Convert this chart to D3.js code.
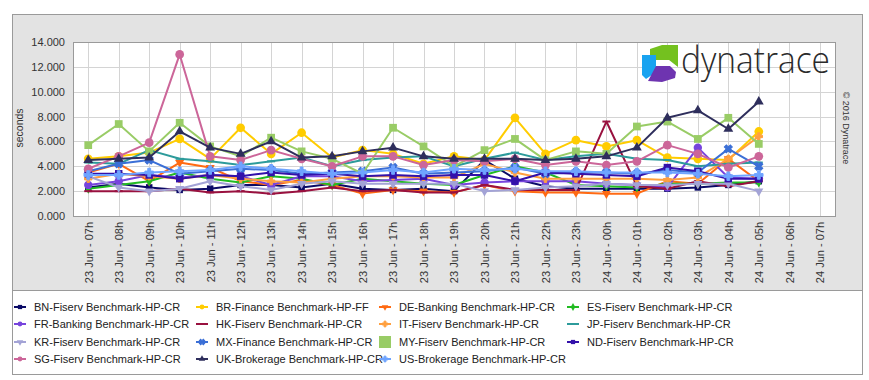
<!DOCTYPE html>
<html>
<head>
<meta charset="utf-8">
<script src="https://cdn.jsdelivr.net/npm/d3@7"></script>
<style>
  body { margin: 0; background: #fff; }
  svg { font-family: Arial, 'Liberation Sans', sans-serif; }
  .tickText { font-size: 11px; fill: #333; }
  .legendText { font-size: 11px; fill: #222; }
</style>
</head>
<body>
<div id="chart"></div>
<script>
// categories on the x axis (hourly)
var hours = ['23 Jun - 07h', '23 Jun - 08h', '23 Jun - 09h', '23 Jun - 10h', '23 Jun - 11h', '23 Jun - 12h',
  '23 Jun - 13h', '23 Jun - 14h', '23 Jun - 15h', '23 Jun - 16h', '23 Jun - 17h', '23 Jun - 18h',
  '23 Jun - 19h', '23 Jun - 20h', '23 Jun - 21h', '23 Jun - 22h', '23 Jun - 23h', '24 Jun - 00h',
  '24 Jun - 01h', '24 Jun - 02h', '24 Jun - 03h', '24 Jun - 04h', '24 Jun - 05h', '24 Jun - 06h', '24 Jun - 07h'];

var yTicks = [0, 2, 4, 6, 8, 10, 12, 14];

// response times in seconds, one value per hour (07h .. 05h)
var bnFiserv = [2.3, 2.6, 2.3, 2.1, 2.2, 2.5, 2.5, 2.3, 2.6, 2.2, 2.1, 2.2, 2.0, 4.5, 3.0, 2.4, 2.2, 2.2, 2.2, 2.2, 2.3, 2.5, 2.8];
var brFinance = [4.6, 4.8, 5.1, 6.2, 4.6, 7.1, 5.0, 6.7, 4.7, 5.3, 5.0, 4.2, 4.8, 4.5, 7.9, 5.0, 6.1, 5.6, 6.1, 4.7, 4.6, 4.5, 6.8];
var deBanking = [3.5, 4.2, 2.8, 4.3, 3.9, 2.8, 2.5, 2.9, 2.5, 1.8, 2.1, 2.0, 1.9, 2.5, 2.0, 1.9, 1.9, 1.8, 1.8, 2.8, 2.6, 4.6, 2.8];
var esFiserv = [2.2, 2.5, 2.8, 3.5, 3.0, 2.7, 3.2, 3.0, 2.5, 3.0, 2.8, 2.6, 2.5, 3.3, 4.0, 3.5, 2.5, 2.4, 2.3, 2.6, 2.6, 2.7, 2.7];
var frBanking = [2.5, 2.8, 3.3, 3.1, 3.3, 3.2, 2.5, 3.2, 3.2, 2.8, 2.9, 3.0, 2.5, 2.7, 2.8, 2.8, 2.8, 2.6, 2.5, 2.3, 5.5, 3.1, 3.0];
var hkFiserv = [2.0, 2.0, 2.0, 2.2, 1.9, 2.0, 1.8, 2.0, 2.3, 2.0, 2.1, 1.9, 1.9, 2.5, 2.1, 2.1, 2.1, 7.6, 2.4, 2.2, 2.8, 2.4, 2.8];
var itFiserv = [3.0, 3.4, 3.2, 3.0, 3.3, 3.0, 2.8, 2.7, 3.0, 3.2, 3.2, 3.1, 3.1, 4.2, 3.5, 3.0, 3.0, 3.0, 3.0, 2.9, 3.1, 4.6, 6.4];
var jpFiserv = [4.3, 4.2, 5.3, 4.6, 4.4, 4.1, 4.4, 4.7, 4.0, 4.5, 4.7, 4.8, 4.0, 4.6, 5.1, 4.5, 4.8, 5.0, 4.6, 4.5, 4.0, 4.2, 4.3];
var krFiserv = [3.2, 2.3, 2.0, 2.2, 2.8, 2.4, 2.1, 2.6, 2.8, 2.6, 2.6, 2.6, 2.6, 2.0, 2.1, 2.3, 2.4, 2.6, 2.5, 2.5, 2.6, 2.6, 2.0];
var mxFinance = [3.6, 4.2, 4.5, 3.4, 3.6, 3.8, 3.7, 3.4, 3.5, 3.6, 3.9, 3.4, 3.5, 3.6, 3.9, 3.4, 3.5, 3.5, 3.4, 3.7, 3.5, 5.4, 4.0];
var myFiserv = [5.7, 7.4, 5.2, 7.5, 5.6, 4.8, 6.3, 5.2, 4.6, 3.4, 7.1, 5.6, 4.0, 5.3, 6.2, 4.5, 5.2, 5.0, 7.2, 7.6, 6.2, 7.9, 5.8];
var ndFiserv = [3.4, 3.4, 3.3, 3.0, 3.3, 3.2, 3.5, 3.3, 3.4, 3.2, 3.3, 3.2, 3.3, 3.3, 2.8, 3.5, 3.4, 3.3, 3.2, 3.9, 3.6, 3.0, 3.0];
var sgFiserv = [3.8, 4.8, 5.9, 13.0, 4.8, 4.5, 5.3, 4.6, 4.0, 4.8, 4.8, 4.1, 4.5, 4.4, 4.6, 4.1, 4.4, 4.1, 4.4, 5.7, 5.0, 3.9, 4.8];
var ukBrokerage = [4.5, 4.6, 4.7, 6.8, 5.5, 5.0, 6.0, 4.7, 4.8, 5.2, 5.5, 4.8, 4.6, 4.6, 4.6, 4.5, 4.6, 4.8, 5.5, 7.9, 8.5, 7.0, 9.2];
var usBrokerage = [3.3, 3.3, 3.5, 3.6, 3.7, 4.0, 3.8, 3.6, 3.4, 3.5, 3.7, 3.5, 3.8, 3.7, 3.8, 3.6, 3.6, 3.5, 3.5, 3.5, 3.4, 3.2, 3.3];

var seriesNames = ['BN-Fiserv Benchmark-HP-CR', 'BR-Finance Benchmark-HP-FF', 'DE-Banking Benchmark-HP-CR', 'ES-Fiserv Benchmark-HP-CR',
  'FR-Banking Benchmark-HP-CR', 'HK-Fiserv Benchmark-HP-CR', 'IT-Fiserv Benchmark-HP-CR', 'JP-Fiserv Benchmark-HP-CR',
  'KR-Fiserv Benchmark-HP-CR', 'MX-Finance Benchmark-HP-CR', 'MY-Fiserv Benchmark-HP-CR', 'ND-Fiserv Benchmark-HP-CR',
  'SG-Fiserv Benchmark-HP-CR', 'UK-Brokerage Benchmark-HP-CR', 'US-Brokerage Benchmark-HP-CR'];

var seriesValues = [bnFiserv, brFinance, deBanking, esFiserv, frBanking, hkFiserv, itFiserv, jpFiserv,
  krFiserv, mxFinance, myFiserv, ndFiserv, sgFiserv, ukBrokerage, usBrokerage];

// look of each series (colour + marker)
var seriesStyle = [
  { color: '#0a0a66', symbol: d3.symbolSquare, size: 42 },
  { color: '#ffcc00', symbol: d3.symbolCircle, size: 60 },
  { color: '#ff6a13', symbol: d3.symbolTriangle, size: 36, rotate: 180 },
  { color: '#22bb22', symbol: d3.symbolDiamond, size: 30 },
  { color: '#7744dd', symbol: d3.symbolCircle, size: 55 },
  { color: '#99113f', symbol: null },
  { color: '#ffa040', symbol: d3.symbolCross, size: 30 },
  { color: '#2d9b9b', symbol: null },
  { color: '#a3a3d6', symbol: d3.symbolTriangle, size: 36, rotate: 180 },
  { color: '#3b6fd6', symbol: d3.symbolCross, size: 40, rotate: 45 },
  { color: '#99cc66', symbol: d3.symbolSquare, size: 60 },
  { color: '#3311aa', symbol: d3.symbolSquare, size: 55 },
  { color: '#cc6699', symbol: d3.symbolCircle, size: 60 },
  { color: '#2e2e5c', symbol: d3.symbolTriangle, size: 42 },
  { color: '#6fa4ff', symbol: d3.symbolCross, size: 40 }
];

var svgWidth = 869;
var svgHeight = 380;

var plot = { left: 73, right: 835, top: 42, bottom: 216 };

var svg = d3.select('#chart')
  .append('svg')
  .attr('width', svgWidth)
  .attr('height', svgHeight);

// outer grey panel
svg.append('rect')
  .attr('x', 12.5).attr('y', 14.5)
  .attr('width', 850).attr('height', 276)
  .attr('fill', '#e3e3e3')
  .attr('stroke', '#9a9a9a');

// legend box
svg.append('rect')
  .attr('x', 12.5).attr('y', 290.5)
  .attr('width', 850).attr('height', 84)
  .attr('fill', '#fff')
  .attr('stroke', '#9a9a9a');

// plot background
svg.append('rect')
  .attr('x', plot.left).attr('y', plot.top)
  .attr('width', plot.right - plot.left).attr('height', plot.bottom - plot.top)
  .attr('fill', '#fff');

var xScale = d3.scalePoint()
  .domain(hours)
  .range([plot.left, plot.right])
  .padding(0.5);

var yScale = d3.scaleLinear()
  .domain([0, 14])
  .range([plot.bottom, plot.top]);

// grid
svg.append('g')
  .selectAll('line')
  .data(hours)
  .enter()
  .append('line')
  .attr('x1', d => Math.round(xScale(d)) + 0.5)
  .attr('x2', d => Math.round(xScale(d)) + 0.5)
  .attr('y1', plot.top)
  .attr('y2', plot.bottom)
  .attr('stroke', '#d4d4d4');

svg.append('g')
  .selectAll('line')
  .data(yTicks)
  .enter()
  .append('line')
  .attr('x1', plot.left)
  .attr('x2', plot.right)
  .attr('y1', d => Math.round(yScale(d)) + 0.5)
  .attr('y2', d => Math.round(yScale(d)) + 0.5)
  .attr('stroke', '#d4d4d4');

// logo
var logo = svg.append('g');
logo.append('path').attr('d', 'M650,49 L662,45 L678,45 L678,67 L669,60 L656,60 L650,55 Z').attr('fill', '#74c11f');
logo.append('path').attr('d', 'M642,55 L656,55 L656,72 L646,79 L642,75 Z').attr('fill', '#19a3f0');
logo.append('path').attr('d', 'M656,66 L670,66 L676,72 L675,78 L662,82 L648,81 Z').attr('fill', '#6e34b0');
logo.append('path').attr('d', 'M656,60 L669,60 L670,66 L656,66 Z').attr('fill', '#fff');
logo.append('text')
  .attr('x', 681).attr('y', 73)
  .attr('textLength', 149)
  .attr('lengthAdjust', 'spacingAndGlyphs')
  .attr('font-family', 'Open Sans, sans-serif')
  .attr('font-weight', 300)
  .attr('font-size', 36)
  .attr('fill', '#2b2b2b')
  .text('dynatrace');

// plot border
svg.append('rect')
  .attr('x', plot.left + 0.5).attr('y', plot.top + 0.5)
  .attr('width', plot.right - plot.left).attr('height', plot.bottom - plot.top)
  .attr('fill', 'none')
  .attr('stroke', '#9a9a9a');

// axes
var leftAxis = d3.axisLeft(yScale)
  .tickValues(yTicks)
  .tickFormat(d3.format('.3f'))
  .tickSize(0)
  .tickPadding(8);

var yAxisGroup = svg.append('g')
  .attr('transform', `translate(${plot.left}, 0)`)
  .call(leftAxis);
yAxisGroup.select('.domain').remove();
yAxisGroup.selectAll('text').attr('class', 'tickText').attr('font-size', null).attr('font-family', null);

var bottomAxis = d3.axisBottom(xScale).tickSize(0).tickPadding(6);
var xAxisGroup = svg.append('g')
  .attr('transform', `translate(0, ${plot.bottom})`)
  .call(bottomAxis);
xAxisGroup.select('.domain').remove();
xAxisGroup.selectAll('text')
  .attr('class', 'tickText')
  .attr('font-size', null)
  .attr('font-family', null)
  .attr('transform', 'rotate(-90)')
  .attr('text-anchor', 'end')
  .attr('x', -6)
  .attr('y', 0)
  .attr('dy', '0.35em');

svg.append('text')
  .attr('transform', 'rotate(-90)')
  .attr('x', -128)
  .attr('y', 23)
  .attr('text-anchor', 'middle')
  .attr('font-size', 10.5)
  .attr('fill', '#333')
  .text('seconds');

svg.append('text')
  .attr('transform', 'translate(843, 128) rotate(90)')
  .attr('text-anchor', 'middle')
  .attr('font-size', 9)
  .attr('fill', '#333')
  .text('\u00a9 2016 Dynatrace');

// lines + markers
var line = d3.line()
  .x((d, i) => xScale(hours[i]))
  .y(d => yScale(d));

var seriesGroup = svg.append('g');

seriesValues.forEach(function(values, s) {
  var st = seriesStyle[s];
  var g = seriesGroup.append('g');
  g.append('path')
    .datum(values)
    .attr('d', line)
    .attr('fill', 'none')
    .attr('stroke', st.color)
    .attr('stroke-width', 2)
    .attr('stroke-linejoin', 'round');

  if (st.symbol) {
    g.selectAll('path.mark')
      .data(values)
      .enter()
      .append('path')
      .attr('class', 'mark')
      .attr('d', d3.symbol().type(st.symbol).size(st.size))
      .attr('transform', (d, i) => `translate(${xScale(hours[i])}, ${yScale(d)}) rotate(${st.rotate || 0})`)
      .attr('fill', st.color)
      .attr('stroke', st.symbol === d3.symbolCross ? st.color : 'none');
  } else {
    g.selectAll('line.mark')
      .data(values)
      .enter()
      .append('line')
      .attr('class', 'mark')
      .attr('x1', (d, i) => xScale(hours[i]) - 4)
      .attr('x2', (d, i) => xScale(hours[i]) + 4)
      .attr('y1', d => yScale(d))
      .attr('y2', d => yScale(d))
      .attr('stroke', st.color)
      .attr('stroke-width', 2);
  }
});

// legend, 4 columns
var legendCols = [20, 202, 385, 573];
var legendRows = [307, 324, 342, 359];

var legend = svg.append('g')
  .selectAll('g')
  .data(seriesNames)
  .enter()
  .append('g')
  .attr('transform', (d, i) => `translate(${legendCols[i % 4]}, ${legendRows[Math.floor(i / 4)]})`);

legend.each(function(d, i) {
  var st = seriesStyle[i];
  var g = d3.select(this);
  if (i === 10) {
    g.append('rect').attr('x', -6).attr('y', -6).attr('width', 12).attr('height', 12).attr('fill', st.color);
  } else {
    g.append('line')
      .attr('x1', -6).attr('x2', 6)
      .attr('stroke', st.color)
      .attr('stroke-width', 2);
    if (st.symbol) {
      g.append('path')
        .attr('d', d3.symbol().type(st.symbol).size(18))
        .attr('transform', `rotate(${st.rotate || 0})`)
        .attr('fill', st.color)
        .attr('stroke', st.symbol === d3.symbolCross ? st.color : 'none');
    }
  }
  g.append('text')
    .attr('class', 'legendText')
    .attr('x', 14)
    .attr('dy', '0.35em')
    .text(d);
});
</script>
</body>
</html>
